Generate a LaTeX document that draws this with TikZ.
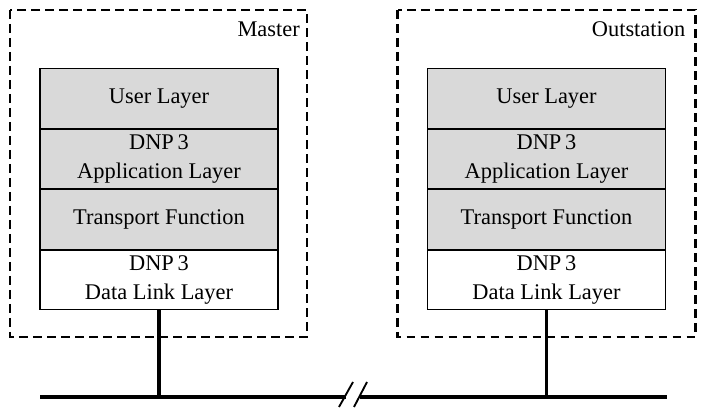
\documentclass[tikz,border=0pt]{standalone}
\usepackage{fontspec}
\setmainfont{Liberation Serif}
\usetikzlibrary{positioning}
\tikzset{
  layer/.style={draw,fill=gray!30,line width=.8pt,minimum width=178.5pt,minimum height=44.6pt,
    inner sep=0pt,align=center,font=\fontsize{16.8}{22}\selectfont},
  linklayer/.style={layer,fill=white},
  station/.style={draw,line width=1.8pt,dash pattern=on 6.5pt off 4pt},
  wire/.style={line width=2.3pt},
  tag/.style={anchor=east,inner sep=0pt,font=\fontsize{16.8}{20}\selectfont}
}
\begin{document}
\begin{tikzpicture}[x=0.75pt,y=-0.75pt]
\useasboundingbox (0,0) rectangle (708,409);
\begin{scope}
    \draw[station] (10,10) rectangle (307,337);
    \node[tag] (mastertag) at (300,29) {Master};
    \node[layer] (muser) at (159,98.5) {User Layer};
    \node[layer,below=0pt of muser] (mapp) {DNP\,3\\Application Layer};
    \node[layer,below=0pt of mapp] (mtrans) {Transport Function};
    \node[linklayer,below=0pt of mtrans] (mlink) {DNP\,3\\Data Link Layer};
\end{scope}
\begin{scope}[xshift=387.5*0.75pt]
    \draw[station] (10,10) rectangle (308,337);
    \node[tag] (outtag) at (298,29) {Outstation};
    \node[layer] (ouser) at (159,98.5) {User Layer};
    \node[layer,below=0pt of ouser] (oapp) {DNP\,3\\Application Layer};
    \node[layer,below=0pt of oapp] (otrans) {Transport Function};
    \node[linklayer,below=0pt of otrans] (olink) {DNP\,3\\Data Link Layer};
\end{scope}
    % bus with the break
    \coordinate (busA) at (40,397);
    \coordinate (busB) at (346,397);
    \coordinate (busC) at (360,397);
    \coordinate (busD) at (667,397);
    \coordinate (mtap) at (mlink.south |- busA);
    \coordinate (otap) at (olink.south |- busA);
    \draw[wire] (busA)--(busB);
    \draw[wire] (busC)--(busD);
    \draw[line width=1.4pt] (339,407)--(353,382) (354,407)--(367,382);
    \draw[wire] (mlink.south)--(mtap);
    \draw[wire] (olink.south)--(otap);
\end{tikzpicture}
\end{document}
